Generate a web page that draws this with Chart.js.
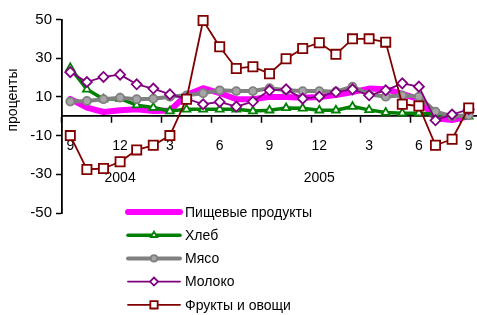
<!DOCTYPE html>
<html>
<head>
<meta charset="utf-8">
<script src="https://cdn.jsdelivr.net/npm/chart.js@4.4.1/dist/chart.umd.min.js"></script>
<style>
  html, body { margin: 0; padding: 0; background: #fff; }
  #wrap { position: relative; width: 477px; height: 315px; }
</style>
</head>
<body>
<div id="wrap"><canvas id="priceChart" width="477" height="315"></canvas></div>
<script>
// Months Sep 2003 .. Sep 2005
const months = ['9','10','11','12','1','2','3','4','5','6','7','8','9','10','11','12','1','2','3','4','5','6','7','8','9'];
const yearLabels = ['', '', '', '2004', '', '', '', '', '', '', '', '', '', '', '', '2005', '', '', '', '', '', '', '', '', ''];

const seriesNames = ['Пищевые продукты', 'Хлеб', 'Мясо', 'Молоко', 'Фрукты и овощи'];

const food   = [9, 4.5, 2.2, 3.1, 3.6, 2.7, 3, 11, 14.5, 12, 8.8, 8.8, 10, 10, 9.6, 10, 11, 12.5, 14.3, 14, 11.5, 8.8, -1, -2, 0];
const bread  = [25, 13.9, 8.8, 9.1, 5.7, 4.5, 2.7, 3.6, 3.6, 3.6, 3.6, 2.7, 3.1, 4.3, 4.1, 3.1, 3.1, 5, 3.3, 1.9, 1.6, 1.6, 1, 0.5, 0];
const meat   = [7.6, 7.9, 8.8, 9.6, 8.8, 9.1, 10.1, 10.8, 11.9, 13.4, 13, 13, 14.5, 13.4, 13, 13, 12.7, 15.3, 11.3, 10.1, 10.8, 10.1, 2.4, 0, 0.5];
const milk   = [22.8, 17.7, 20.3, 21.5, 16.5, 14.3, 11.3, 9.1, 6.2, 7.4, 5, 7.6, 13.4, 13.9, 9.1, 10.1, 12.5, 13.9, 10.8, 13.4, 17, 15.3, -2.1, 0.9, 3.6];
const fruits = [-10, -27.5, -27, -23.5, -17.4, -15, -10, 8.8, 49.5, 35.9, 24.7, 25.6, 22, 29.7, 35, 38, 32, 40, 40, 38.3, 6.2, 5.3, -15, -11.9, 4.3];

const yTicks = [-50, -30, -10, 10, 30, 50];

const FONT = "'Liberation Sans', Arial, sans-serif";

const styles = [
  { color: '#ff00ff', width: 6, point: false, fill: '#ff00ff', radius: 0 },
  { color: '#008000', width: 3.5, point: 'triangle', fill: '#ffffff', radius: 4.5 },
  { color: '#808080', width: 4, point: 'circle', fill: '#a6a6a6', radius: 4 },
  { color: '#800080', width: 1.8, point: 'rectRot', fill: '#ffffff', radius: 5 },
  { color: '#800000', width: 1.8, point: 'rect', fill: '#ffffff', radius: 6.5 }
];

const allData = [food, bread, meat, milk, fruits];

const datasets = allData.map((d, i) => ({
  label: seriesNames[i],
  data: d,
  borderColor: styles[i].color,
  borderWidth: styles[i].width,
  backgroundColor: styles[i].fill,
  pointStyle: styles[i].point,
  pointRadius: styles[i].radius,
  pointHoverRadius: styles[i].radius,
  pointBackgroundColor: styles[i].fill,
  pointBorderColor: styles[i].color,
  pointBorderWidth: 1.8,
  borderJoinStyle: 'round',
  borderCapStyle: 'round',
  tension: 0,
  fill: false,
  clip: false,
  order: 5 - i
}));

// y-axis title and legend drawn by hand
const extrasPlugin = {
  id: 'extras',
  afterDraw(chart) {
    const ctx = chart.ctx;
    ctx.save();
    ctx.fillStyle = '#000';
    ctx.font = '14px ' + FONT;
    ctx.translate(13, 100);
    ctx.rotate(-Math.PI / 2);
    ctx.textAlign = 'center';
    ctx.textBaseline = 'middle';
    ctx.fillText('проценты', 0, 0);
    ctx.restore();

    ctx.save();
    const x0 = 128, x1 = 180, top = 212, step = 23.2;
    styles.forEach((s, i) => {
      const y = top + i * step;
      ctx.strokeStyle = s.color;
      ctx.lineWidth = s.width;
      ctx.lineCap = 'round';
      ctx.beginPath();
      ctx.moveTo(x0, y);
      ctx.lineTo(x1, y);
      ctx.stroke();
      if (s.point) {
        ctx.fillStyle = s.fill;
        ctx.strokeStyle = s.color;
        ctx.lineWidth = 1.8;
        Chart.helpers.drawPoint(ctx, { pointStyle: s.point, radius: s.radius * 0.8, rotation: 0, borderWidth: 1.8 }, (x0 + x1) / 2, y);
      }
      ctx.fillStyle = '#000';
      ctx.font = '14px ' + FONT;
      ctx.textAlign = 'left';
      ctx.textBaseline = 'middle';
      ctx.fillText(seriesNames[i], x1 + 5, y + 1);
    });
    ctx.restore();
  }
};

new Chart(document.getElementById('priceChart'), {
  type: 'line',
  data: { labels: months, datasets: datasets },
  plugins: [extrasPlugin],
  options: {
    responsive: false,
    animation: false,
    layout: { autoPadding: false, padding: { top: 19.5, right: 0, bottom: 102, left: 0 } },
    plugins: { legend: { display: false }, tooltip: { enabled: false } },
    scales: {
      x: {
        type: 'category',
        position: { y: 0 },
        offset: true,
        afterFit: (s) => { s.paddingLeft = 0; s.paddingRight = 0; },
        grid: {
          display: true,
          offset: true,
          drawOnChartArea: false,
          drawTicks: true,
          tickLength: 6,
          tickWidth: 1.5,
          tickColor: (c) => (c.index % 3 === 0 ? '#000' : 'rgba(0,0,0,0)')
        },
        border: { display: true, color: '#000', width: 1.8 },
        ticks: {
          autoSkip: false,
          maxRotation: 0,
          padding: 16,
          color: '#000',
          font: { size: 14, family: FONT, lineHeight: 1.15 },
          callback: function (val, idx) {
            if (idx % 3 !== 0) return '';
            const m = months[idx];
            return yearLabels[idx] ? [m, '', yearLabels[idx]] : m;
          }
        }
      },
      y: {
        min: -50,
        max: 50,
        afterFit: (s) => { s.width = 62; },
        afterBuildTicks: (s) => { s.ticks = yTicks.map(v => ({ value: v })); },
        grid: { display: true, drawOnChartArea: false, drawTicks: true, tickLength: 6, tickColor: '#000', tickWidth: 1.5 },
        border: { display: true, color: '#000', width: 1.8 },
        ticks: {
          padding: 4,
          color: '#000',
          font: { size: 15, family: FONT }
        }
      }
    }
  }
});
</script>
</body>
</html>
